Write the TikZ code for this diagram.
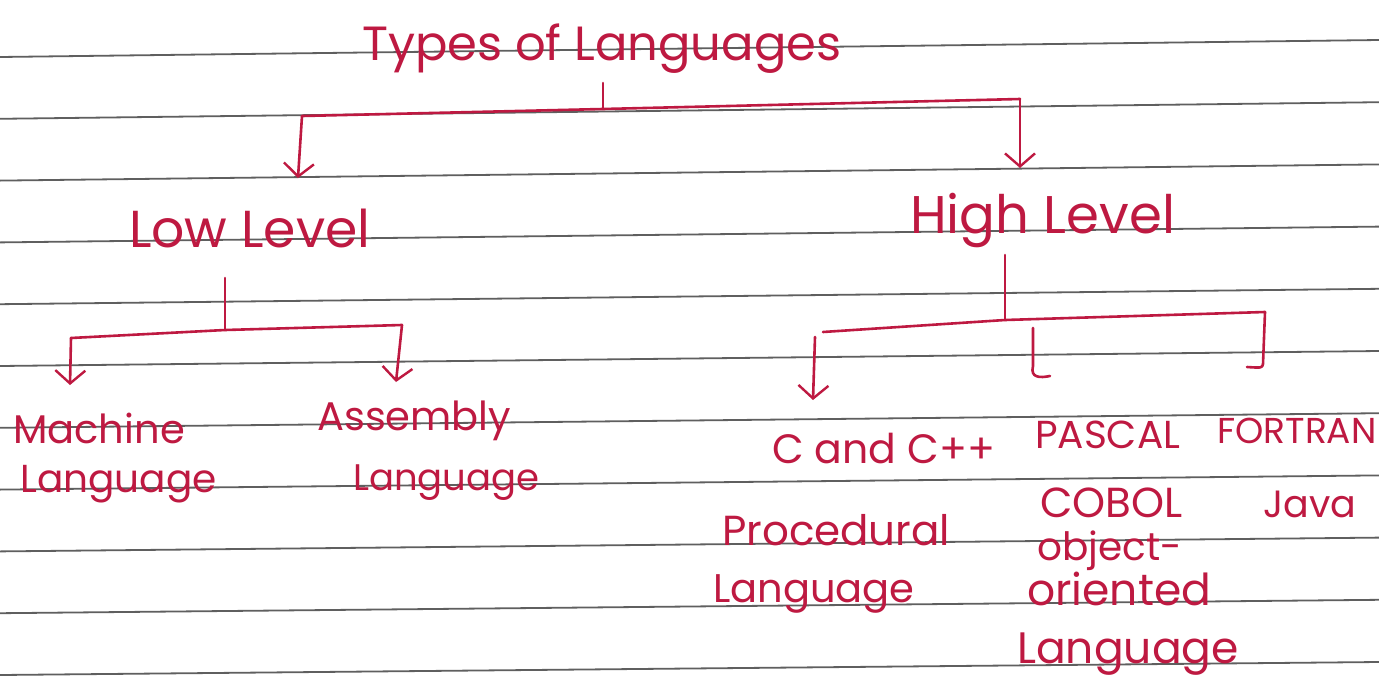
\documentclass[tikz,border=0pt]{standalone}
\usepackage{fontspec}
\setmainfont{Poppins}
\usetikzlibrary{arrows.meta}
\definecolor{ink}{RGB}{190,25,65}
\definecolor{rulegray}{RGB}{95,95,95}
\begin{document}
\begin{tikzpicture}[x=1pt,y=-1pt,
  hw/.style={text=ink, inner sep=0pt, anchor=base west},
  fs/.style={font=\fontsize{#1}{#1}\selectfont},
  inkline/.style={draw=ink, line width=2.6pt, line cap=round, line join=round},
  barb/.style={inkline, -{Straight Barb[length=13pt,width=30pt,line width=2.4pt]}},
  ruling/.style={draw=rulegray, line width=1.8pt}]
% paper
\fill[white] (0,0) rectangle (1379,691);
\useasboundingbox (0,0) rectangle (1379,691);
\foreach \i in {0,...,10}
  \draw[ruling] (0,{57+61.8*\i}) -- (1379,{40+62.2*\i});

% labels
\node[hw,fs=48] (title) at (362,60) {Types of Languages};
\node[hw,fs=52] (low) at (129,247) {Low Level};
\node[hw,fs=53] (high) at (910,233) {High Level};
\node[hw,fs=40] (mach) at (13,443) {Machine};
\node[hw,fs=39] (mach2) at (20,492) {Language};
\node[hw,fs=40] (asm) at (317,430) {Assembly};
\node[hw,fs=37] (asm2) at (353,490) {Language};
\node[hw,fs=41] (cc) at (772,463) {C and C++};
\node[hw,fs=39] (pascal) at (1035,448) {PASCAL};
\node[hw,fs=36] (fortran) at (1217,443) {FORTRAN};
\node[hw,fs=42] (cobol) at (1040,517) {COBOL};
\node[hw,fs=38] (java) at (1263,517) {Java};
\node[hw,fs=42] (proc) at (722,545) {Procedural};
\node[hw,fs=40] (proc2) at (713,602) {Language};
\node[hw,fs=39] (oo) at (1037,560) {object-};
\node[hw,fs=44] (oo2) at (1027,605) {oriented};
\node[hw,fs=44] (oo3) at (1017,663) {Language};

% branch points
\coordinate (t-stem) at (603,83);
\coordinate (t-join) at (603,109);
\coordinate (t-left) at (302,116);
\coordinate (t-right) at (1020,99);
\coordinate (t-lowtip) at (298,178);
\coordinate (t-hightip) at (1020,168);

\coordinate (l-stem) at (225,278);
\coordinate (l-join) at (225,330);
\coordinate (l-left) at (71,338);
\coordinate (l-right) at (402,325);
\coordinate (l-machtip) at (70,385);
\coordinate (l-asmtip) at (396,382);

\coordinate (h-stem) at (1005,255);
\coordinate (h-join) at (1005,320);
\coordinate (h-left) at (823,332);
\coordinate (h-right) at (1265,312);
\coordinate (h-ccstart) at (815,337);
\coordinate (h-cctip) at (813,400);
\coordinate (h-midtop) at (1033,328);
\coordinate (h-midlow) at (1033,366);
\coordinate (h-midend) at (1050,376);
\coordinate (h-rightlow) at (1263,364);
\coordinate (h-rightend) at (1247,367);

% top level
\draw[inkline] (t-stem) -- (t-join);
\draw[inkline] (t-left) -- (t-join) -- (t-right);
\draw[barb] (t-left) -- (t-lowtip);
\draw[barb] (t-right) -- (t-hightip);

% low level branch
\draw[inkline] (l-stem) -- (l-join);
\draw[inkline] (l-left) -- (l-join) -- (l-right);
\draw[barb] (l-left) -- (l-machtip);
\draw[barb] (l-right) -- (l-asmtip);

% high level branch
\draw[inkline] (h-stem) -- (h-join);
\draw[inkline] (h-left) -- (h-join) -- (h-right);
\draw[barb] (h-ccstart) -- (h-cctip);
\draw[inkline] (h-midtop) -- (h-midlow) .. controls (1030,378) and (1040,378) .. (h-midend);
\draw[inkline] (h-right) -- (h-rightlow) .. controls (1262,368) .. (h-rightend);
\end{tikzpicture}
\end{document}
